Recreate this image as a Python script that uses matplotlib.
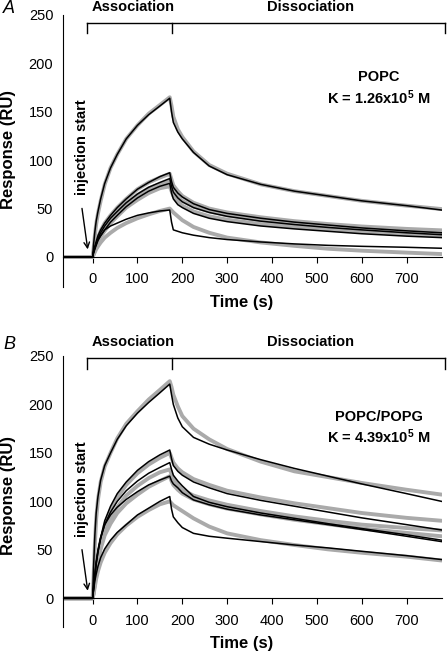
import matplotlib.pyplot as plt

plt.rcParams['font.family'] = ['Liberation Sans', 'DejaVu Sans']
plt.rcParams['mathtext.fontset'] = 'custom'
plt.rcParams['mathtext.rm'] = 'Liberation Sans'
plt.rcParams['mathtext.bf'] = 'Liberation Sans:bold'
plt.rcParams['mathtext.default'] = 'bf'

# --- Data ---

time_s = [-66, 0, 2, 5, 8, 12, 18, 27, 40, 55, 75, 100, 125, 150, 172,
          176, 180, 190, 200, 225, 260, 300, 375, 450, 525, 600, 700, 778]

# panel A: POPC
popc_data_1 = [0, 0, 8, 22, 34, 45, 58, 75, 92, 106, 122, 136, 148, 157, 165,
               156, 145, 132, 124, 109, 95, 86, 75, 68, 63, 58, 53, 49.5]
popc_data_2 = [0, 0, 3, 9, 14, 20, 27, 35, 43, 51, 60, 70, 77, 82, 86,
               80, 74, 68, 63, 56, 50, 46, 41, 37, 34, 31.5, 29, 27.5]
popc_data_3 = [0, 0, 3, 8, 12, 17, 23, 30, 38, 46, 55, 64, 71, 75, 78,
               73, 68, 62, 58, 52, 47, 43, 38, 34.5, 31.5, 29, 26.5, 25]
popc_data_4 = [0, 0, 3, 7, 11, 15, 21, 27, 35, 42, 51, 59, 66, 71, 73,
               68, 63, 57, 53, 47, 42, 38.5, 34, 31, 28.5, 26, 23.5, 22]
popc_data_5 = [0, 0, 2, 5, 8, 11, 15, 20, 25, 30, 35, 40, 44, 47.5, 50,
               48, 46, 42, 38, 31, 25, 20, 15, 11.5, 8.5, 6.5, 4.5, 3]

popc_fit_1 = [0, 0, 12, 26, 37, 47, 60, 76, 92, 106, 122, 136, 147, 156, 164,
              150, 139, 129, 122, 108, 94, 85, 75, 68, 63, 58, 53, 48.5]
popc_fit_2 = [0, 0, 5, 11, 16, 22, 28, 35, 43, 51, 60, 70, 77, 83, 87,
              78, 72, 66, 62, 55, 49, 45, 40, 36, 33, 30, 27, 25]
popc_fit_3 = [0, 0, 4, 9, 14, 19, 25, 32, 40, 47, 56, 65, 72, 77, 81,
              73, 67, 61, 57, 51, 46, 42, 37, 33.5, 30.5, 28, 25, 23]
popc_fit_4 = [0, 0, 4, 8, 12, 17, 22, 28, 36, 43, 52, 61, 68, 73, 76,
              66, 60, 54, 51, 45, 40, 36.5, 32, 29, 26.5, 24, 21.5, 20]
popc_fit_5 = [0, 0, 5, 10, 13, 18, 22, 28, 32, 35, 39, 43, 45.5, 47.5, 48.5,
              36, 28, 26.5, 25, 22.5, 20, 18, 15.5, 13.5, 12, 11, 10, 9]

# panel B: POPC/POPG
popg_data_1 = [0, 0, 20, 55, 82, 102, 120, 136, 150, 165, 180, 193, 205, 215, 224,
               218, 210, 198, 188, 175, 164, 154, 141, 131, 125, 119, 112, 107]
popg_data_2 = [0, 0, 6, 18, 30, 43, 58, 75, 90, 104, 117, 129, 138, 145, 150,
               145, 140, 134, 130, 123, 117, 111, 104, 98, 93, 88, 83, 80]
popg_data_3 = [0, 0, 5, 16, 28, 40, 53, 68, 82, 94, 106, 116, 124, 130, 133,
               128, 123, 117, 112, 106, 101, 96.5, 90, 84.5, 80, 76, 72.5, 70]
popg_data_4 = [0, 0, 5, 16, 27, 38, 51, 65, 77, 88, 98, 107, 115, 121, 126,
               121, 117, 112, 108, 102, 97, 92.5, 86.5, 81, 76.5, 72, 67.5, 64]
popg_data_5 = [0, 0, 4, 12, 20, 28, 37, 47, 57, 66, 75, 84, 91, 97, 100,
               98, 96, 93, 90, 82.5, 74, 67, 60, 55, 50.5, 47, 43, 39]

popg_fit_1 = [0, 0, 30, 65, 88, 105, 122, 137, 150, 164, 178, 191, 202, 212, 221,
              210, 200, 186, 177, 166, 159, 153, 143, 134, 126, 118, 108, 100]
popg_fit_2 = [0, 0, 10, 24, 36, 48, 62, 80, 95, 108, 120, 132, 141, 148, 153,
              144, 137, 131, 127, 120, 114, 108, 101, 95, 89, 83, 76, 70.5]
popg_fit_3 = [0, 0, 8, 22, 35, 48, 62, 76, 89, 100, 111, 121, 129, 135, 140,
              133, 127, 121, 116, 105, 99, 94.5, 88, 82.5, 77, 72, 65.5, 60]
popg_fit_4 = [0, 0, 10, 25, 38, 50, 63, 76, 86, 94, 102, 110, 117, 122, 126,
              121, 118, 114, 109, 101.5, 96.5, 92, 86, 81, 76, 71, 64, 58.5]
popg_fit_5 = [0, 0, 8, 18, 25, 33, 42, 51, 60, 68, 76, 86, 93, 100, 105,
              92, 84, 78, 73, 67, 64, 62, 58.5, 55, 52, 48.5, 44, 40]

x_ticks = [0, 100, 200, 300, 400, 500, 600, 700]
y_ticks = [0, 50, 100, 150, 200, 250]


def draw_panel(ax, data_curves, fit_curves, ylow, bracket_y, label_y,
               name, k_text, name_y, k_y):
    for y in data_curves:
        ax.plot(time_s, y, color='#aaaaaa', lw=2.8, solid_joinstyle='round',
                solid_capstyle='round')
    for y in fit_curves:
        ax.plot(time_s, y, color='black', lw=1.1)

    ax.set_xlim(-66, 780)
    ax.set_ylim(ylow, 250)
    ax.spines['top'].set_visible(False)
    ax.spines['right'].set_visible(False)
    ax.spines['bottom'].set_position(('data', 0))
    ax.set_xticks(x_ticks)
    ax.set_yticks(y_ticks)
    ax.tick_params(axis='x', direction='out', length=4, pad=7, labelsize=10.5)
    ax.tick_params(axis='y', length=0, pad=7, labelsize=10.5)

    # association / dissociation bracket
    bx = [-12, 178, 785]
    ax.plot([bx[0], bx[2]], [bracket_y, bracket_y], color='black', lw=1, clip_on=False)
    for x in bx:
        ax.plot([x, x], [bracket_y, bracket_y - 11], color='black', lw=1, clip_on=False)
    ax.text(90, label_y, 'Association', ha='center', va='center',
            fontsize=10.5, fontweight='bold', clip_on=False)
    ax.text(486, label_y, 'Dissociation', ha='center', va='center',
            fontsize=10.5, fontweight='bold', clip_on=False)

    ax.text(638, name_y, name, ha='center', va='center', fontsize=10.5, fontweight='bold')
    ax.text(638, k_y, k_text, ha='center', va='center', fontsize=10.5, fontweight='bold')

    ax.text(-24, 113, 'injection start', rotation=90, ha='center', va='center',
            fontsize=10.5, fontweight='bold')
    ax.annotate('', xy=(-10, 5), xytext=(-24.5, 53),
                arrowprops=dict(arrowstyle='->', color='black', lw=1))


fig = plt.figure(figsize=(4.48, 6.54), dpi=100)

ax_a = fig.add_axes([0.1406, 0.5612, 0.847, 0.4159])
draw_panel(ax_a,
           [popc_data_1, popc_data_2, popc_data_3, popc_data_4, popc_data_5],
           [popc_fit_1, popc_fit_2, popc_fit_3, popc_fit_4, popc_fit_5],
           -31, 242, 258, 'POPC', r'K = 1.26x10$^{5}$ M', 186, 165)

ax_b = fig.add_axes([0.1406, 0.0407, 0.847, 0.415])
draw_panel(ax_b,
           [popg_data_1, popg_data_2, popg_data_3, popg_data_4, popg_data_5],
           [popg_fit_1, popg_fit_2, popg_fit_3, popg_fit_4, popg_fit_5],
           -30, 247.5, 264, 'POPC/POPG', r'K = 4.39x10$^{5}$ M', 187, 167)

# panel letters and axis titles
fig.text(0.020, 0.987, 'A', fontsize=13, fontstyle='italic', ha='center', va='center')
fig.text(0.020, 0.4725, 'B', fontsize=13, fontstyle='italic', ha='center', va='center')
fig.text(0.020, 0.772, 'Response (RU)', rotation=90, fontsize=12, fontweight='bold',
         ha='center', va='center')
fig.text(0.020, 0.242, 'Response (RU)', rotation=90, fontsize=12, fontweight='bold',
         ha='center', va='center')
fig.text(0.540, 0.538, 'Time (s)', fontsize=12, fontweight='bold', ha='center', va='center')
fig.text(0.540, 0.0168, 'Time (s)', fontsize=12, fontweight='bold', ha='center', va='center')

fig.savefig('out.png', dpi=100)
